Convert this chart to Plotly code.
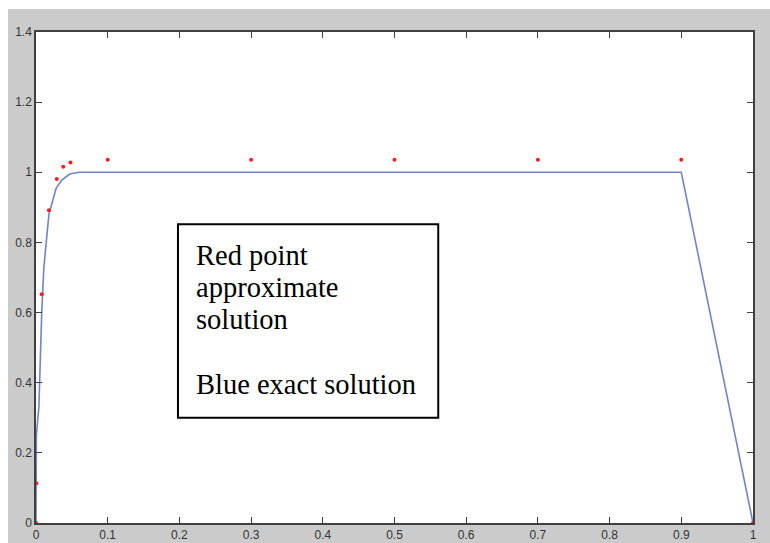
import plotly.graph_objects as go

# Exact solution (blue curve)
exact_x = [0, 0.0005, 0.004, 0.006, 0.008, 0.011, 0.018, 0.028, 0.036, 0.047, 0.06, 0.9, 1.0]
exact_y = [0, 0.25, 0.33, 0.50, 0.60, 0.73, 0.88, 0.954, 0.978, 0.995, 1.0, 1.0, 0.0]

# Approximate solution (red points)
approx_x = [0, 0.0005, 0.008, 0.018, 0.029, 0.038, 0.048, 0.1, 0.3, 0.5, 0.7, 0.9, 1.0]
approx_y = [0, 0.113, 0.652, 0.892, 0.981, 1.016, 1.028, 1.036, 1.036, 1.036, 1.036, 1.036, 0]

x_ticks = [0, 0.1, 0.2, 0.3, 0.4, 0.5, 0.6, 0.7, 0.8, 0.9, 1]
x_labels = ["0", "0.1", "0.2", "0.3", "0.4", "0.5", "0.6", "0.7", "0.8", "0.9", "1"]
y_ticks = [0, 0.2, 0.4, 0.6, 0.8, 1.0, 1.2, 1.4]
y_labels = ["0", "0.2", "0.4", "0.6", "0.8", "1", "1.2", "1.4"]

note_lines = ["Red point", "approximate", "solution", "", "Blue exact solution"]

GRAY = "#cbcbcb"
AXIS = "#404040"
PLOT_W, PLOT_H = 717, 491

fig = go.Figure()
fig.add_trace(go.Scatter(
    x=exact_x, y=exact_y, mode="lines",
    line=dict(color="#6f84cc", width=1.6),
    hoverinfo="skip", showlegend=False,
))
fig.add_trace(go.Scatter(
    x=approx_x, y=approx_y, mode="markers",
    marker=dict(color="#ff1a1a", size=4, symbol="circle", line=dict(width=0)),
    cliponaxis=False, showlegend=False,
))

axis_common = dict(
    showgrid=False, zeroline=False, showline=True, mirror="ticks",
    linecolor=AXIS, linewidth=1.5, ticks="inside", ticklen=6,
    tickcolor=AXIS, tickwidth=1, automargin=False,
    tickfont=dict(family="Liberation Sans, Arial, sans-serif", size=12, color="#333333"),
)

fig.update_layout(
    width=770, height=543,
    margin=dict(l=36, r=17, t=32, b=20, autoexpand=False),
    paper_bgcolor=GRAY, plot_bgcolor="white",
    xaxis=dict(range=[0, 1], tickvals=x_ticks, ticktext=x_labels, **axis_common),
    yaxis=dict(range=[0, 1.4], tickvals=y_ticks, ticktext=y_labels, **axis_common),
)

# White strips along the top and left edges of the figure
fig.add_shape(type="rect", xref="paper", yref="paper",
              x0=-36 / PLOT_W, x1=734 / PLOT_W, y0=1 + 23 / PLOT_H, y1=1 + 40 / PLOT_H,
              fillcolor="white", line=dict(width=0), layer="below")
fig.add_shape(type="rect", xref="paper", yref="paper",
              x0=-40 / PLOT_W, x1=-28 / PLOT_W, y0=-30 / PLOT_H, y1=1 + 40 / PLOT_H,
              fillcolor="white", line=dict(width=0), layer="below")

# Text box
fig.add_shape(type="rect", xref="x", yref="y",
              x0=0.198, x1=0.561, y0=0.30, y1=0.852,
              fillcolor="white", line=dict(color="black", width=2))

line_step = 32.25 / PLOT_H * 1.4
top_y = 0.764
for i, txt in enumerate(note_lines):
    if not txt:
        continue
    fig.add_annotation(
        x=0.2205, y=top_y - i * line_step, xref="x", yref="y",
        text=txt, showarrow=False, xanchor="left", yanchor="middle",
        font=dict(family="Liberation Serif, Times New Roman, serif", size=28.5, color="black"),
    )

fig.write_html("out.html")
